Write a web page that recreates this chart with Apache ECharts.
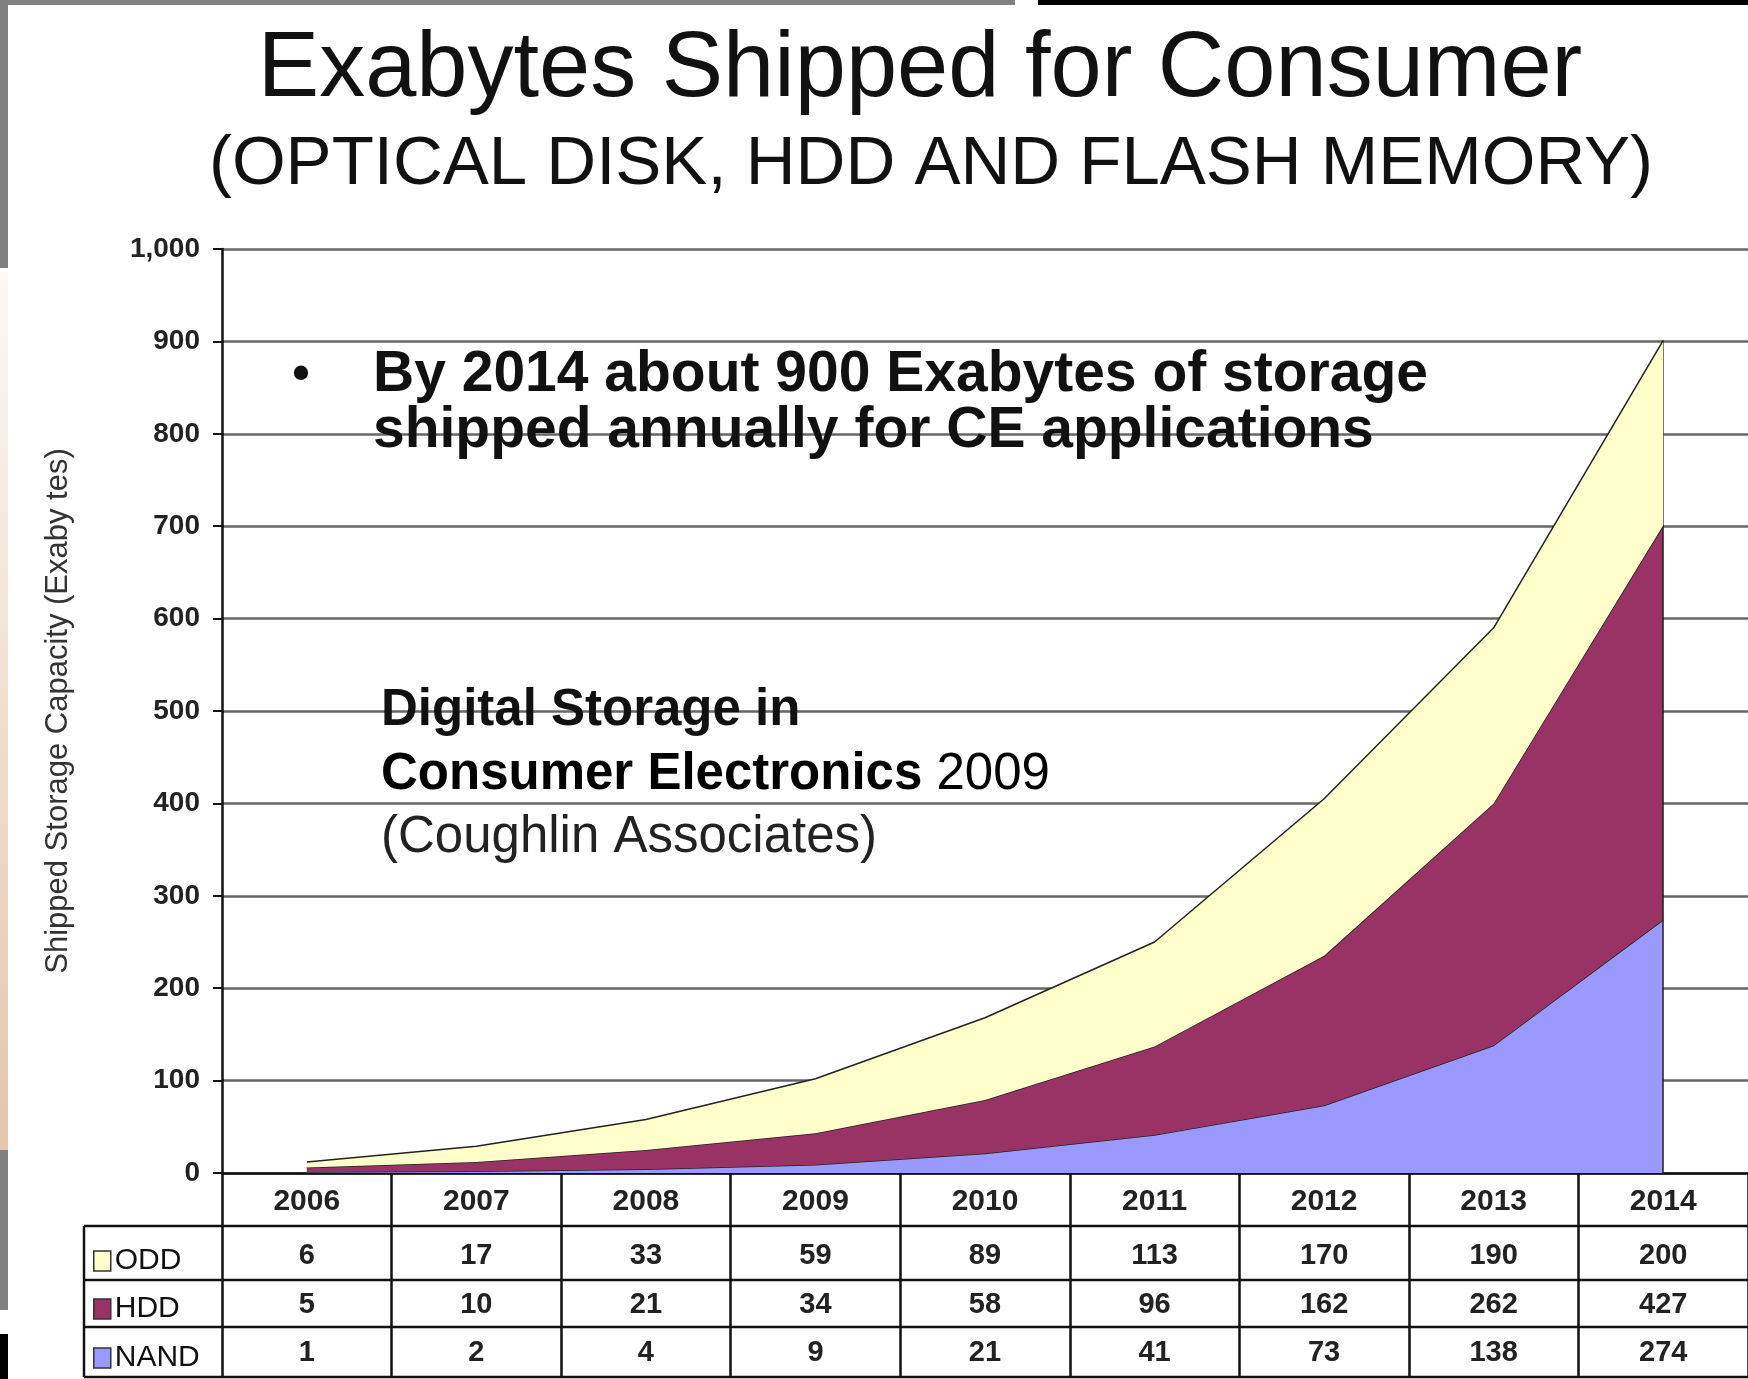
<!DOCTYPE html>
<html>
<head>
<meta charset="utf-8">
<script src="https://cdn.jsdelivr.net/npm/echarts@6/dist/echarts.min.js"></script>
<style>
  html, body { margin: 0; padding: 0; background: #fff; }
  #chart { width: 1748px; height: 1379px; }
</style>
</head>
<body>
<div id="chart"></div>
<script>
// data (Exabytes)
const years = ['2006', '2007', '2008', '2009', '2010', '2011', '2012', '2013', '2014'];
const odd = [6, 17, 33, 59, 89, 113, 170, 190, 200];
const hdd = [5, 10, 21, 34, 58, 96, 162, 262, 427];
const nand = [1, 2, 4, 9, 21, 41, 73, 138, 274];
const seriesNames = ['ODD', 'HDD', 'NAND'];
const yMin = 0, yMax = 1000, yStep = 100;

// layout of the table rows (pixel y of each horizontal rule)
const axisY = 1173;
const rowLines = [1226, 1280, 1327, 1377];
const rowCenters = [1256, 1304, 1353];
const tableLeft = 84;
const plotLeft = 222;
const W = 1748;

const colors = { ODD: '#FFFFCC', HDD: '#993366', NAND: '#9999FF' };
const font = 'Liberation Sans, Arial, Helvetica, sans-serif';

// 千分位
function formatInt(value) {
  return String(value).replace(/(\d)(?=(\d{3})+(?!\d))/g, '$1,');
}

const chart = echarts.init(document.getElementById('chart'));

function valueAxis(offset, values, margin) {
  return {
    type: 'category',
    data: years,
    position: 'bottom',
    offset: offset,
    axisLine: { show: false },
    axisTick: { show: false },
    splitLine: { show: false },
    axisLabel: {
      interval: 0,
      margin: margin,
      fontSize: 29,
      fontWeight: 'bold',
      fontFamily: font,
      color: '#222',
      formatter: (v, i) => String(values[i])
    }
  };
}

function areaSeries(name, data, z) {
  return {
    name: name,
    type: 'line',
    stack: 'total',
    data: data,
    symbol: 'none',
    z: z,
    itemStyle: { color: colors[name] },
    lineStyle: { color: '#222', width: 1.5 },
    areaStyle: { color: colors[name], opacity: 1 }
  };
}

// one legend per table row so each swatch sits in its own row
function rowLegend(name, i) {
  return {
    data: [name],
    left: 93,
    top: rowCenters[i] - 10,
    padding: 0,
    icon: 'rect',
    itemWidth: 17,
    itemHeight: 20,
    itemStyle: { borderColor: '#333', borderWidth: 1.5 },
    textStyle: { fontSize: 30, fontFamily: font, color: '#111', padding: [0, 0, 0, -1] }
  };
}

const total2014 = odd[8] + hdd[8] + nand[8];

const tableLines = rowLines.map(y => ({
  type: 'line',
  z: 100,
  shape: { x1: tableLeft, y1: y, x2: W, y2: y },
  style: { stroke: '#111', lineWidth: 2.5 }
}));

const option = {
  backgroundColor: '#fff',
  animation: false,
  grid: { left: plotLeft, top: 249, right: 0, bottom: 1379 - axisY },
  legend: seriesNames.map(rowLegend),
  xAxis: [
    {
      type: 'category',
      data: years,
      boundaryGap: true,
      axisLine: { lineStyle: { color: '#111', width: 2.5 } },
      axisTick: { show: true, interval: 0, length: rowLines[3] - axisY, lineStyle: { color: '#111', width: 2.5 } },
      axisLabel: { interval: 0, margin: 14, fontSize: 30, fontWeight: 'bold', fontFamily: font, color: '#222' },
      splitLine: { show: false }
    },
    valueAxis(rowLines[0] - axisY, odd, 15),
    valueAxis(rowLines[1] - axisY, hdd, 10),
    valueAxis(rowLines[2] - axisY, nand, 11)
  ],
  yAxis: {
    type: 'value',
    min: yMin,
    max: yMax,
    interval: yStep,
    name: 'Shipped Storage Capacity (Exaby tes)',
    nameLocation: 'middle',
    nameRotate: 90,
    nameGap: 148,
    nameTextStyle: { fontSize: 31, fontFamily: font, color: '#333' },
    axisLine: { show: true, lineStyle: { color: '#111', width: 2.5 } },
    axisTick: { show: true, length: 9, lineStyle: { color: '#111', width: 2 } },
    axisLabel: {
      margin: 22,
      fontSize: 28,
      fontWeight: 'bold',
      fontFamily: font,
      color: '#222',
      formatter: v => formatInt(v)
    },
    splitLine: { lineStyle: { color: '#666', width: 2.5 } }
  },
  series: [
    areaSeries('NAND', nand, 3),
    areaSeries('HDD', hdd, 4),
    Object.assign(areaSeries('ODD', odd, 5), {
      markLine: {
        symbol: 'none',
        silent: true,
        label: { show: false },
        lineStyle: { color: '#222', width: 1.5, type: 'solid' },
        data: [[{ coord: [years[8], 0] }, { coord: [years[8], total2014] }]]
      }
    })
  ],
  graphic: [
    // bits of the neighbouring slide showing at the edges
    { type: 'rect', shape: { x: 0, y: 0, width: 1015, height: 5 }, style: { fill: '#808080' } },
    { type: 'rect', shape: { x: 1038, y: 0, width: 710, height: 5 }, style: { fill: '#000' } },
    { type: 'rect', shape: { x: 0, y: 0, width: 8, height: 268 }, style: { fill: '#808080' } },
    {
      type: 'rect', shape: { x: 0, y: 272, width: 8, height: 878 },
      style: { fill: new echarts.graphic.LinearGradient(0, 0, 0, 1, [{ offset: 0, color: '#fbf8f5' }, { offset: 1, color: '#e2c6ae' }]) }
    },
    { type: 'rect', shape: { x: 0, y: 1150, width: 8, height: 160 }, style: { fill: '#808080' } },
    { type: 'rect', shape: { x: 0, y: 1334, width: 8, height: 45 }, style: { fill: '#000' } },

    // titles
    {
      type: 'text', x: 920, y: 71,
      style: { text: 'Exabytes Shipped for Consumer', font: '92px ' + font, fill: '#111', textAlign: 'center', textVerticalAlign: 'middle' }
    },
    {
      type: 'text', x: 931, y: 165,
      style: { text: '(OPTICAL DISK, HDD AND FLASH MEMORY)', font: '69px ' + font, fill: '#111', textAlign: 'center', textVerticalAlign: 'middle' }
    },

    // annotation
    { type: 'text', x: 301, y: 375, z: 100, style: { text: '•', font: 'bold 50px ' + font, fill: '#111', textAlign: 'center', textVerticalAlign: 'middle' } },
    { type: 'text', x: 373, y: 375, z: 100, style: { text: 'By 2014 about 900 Exabytes of storage', font: 'bold 57px ' + font, fill: '#111', textVerticalAlign: 'middle' } },
    { type: 'text', x: 373, y: 431, z: 100, style: { text: 'shipped annually for CE applications', font: 'bold 57px ' + font, fill: '#111', textVerticalAlign: 'middle' } },
    { type: 'text', x: 381, y: 711, z: 100, style: { text: 'Digital Storage in', font: 'bold 51px ' + font, fill: '#111', textVerticalAlign: 'middle' } },
    {
      type: 'text', x: 381, y: 775, z: 100,
      style: {
        text: '{b|Consumer Electronics }{n|2009}',
        textVerticalAlign: 'middle',
        rich: {
          b: { fontSize: 51, fontWeight: 'bold', fontFamily: font, color: '#111' },
          n: { fontSize: 51, fontFamily: font, color: '#222' }
        }
      }
    },
    { type: 'text', x: 381, y: 838, z: 100, style: { text: '(Coughlin Associates)', font: '51px ' + font, fill: '#222', textVerticalAlign: 'middle' } },

    // table frame
    ...tableLines,
    { type: 'line', z: 100, shape: { x1: tableLeft, y1: rowLines[0], x2: tableLeft, y2: rowLines[3] }, style: { stroke: '#111', lineWidth: 2.5 } }
  ]
};

chart.setOption(option);
</script>
</body>
</html>
